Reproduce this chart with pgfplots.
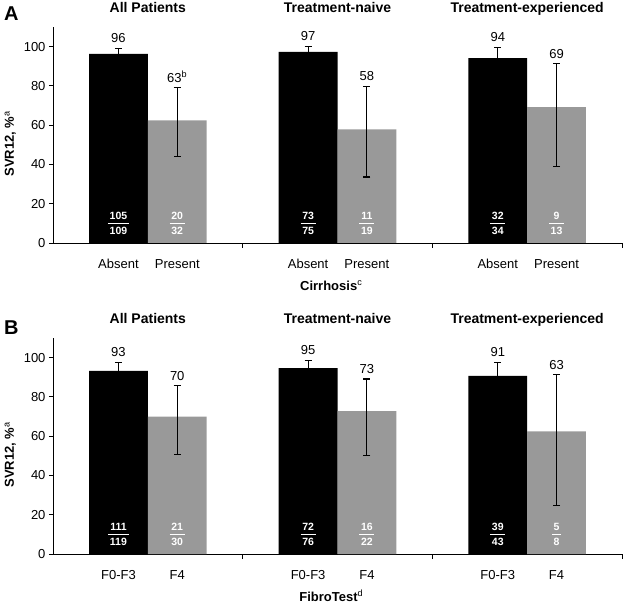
\documentclass[border=0pt]{standalone}
\usepackage{pgfplots}
\pgfplotsset{compat=1.18}
\usepackage{fontspec}
\setmainfont{Liberation Sans}
\definecolor{bargray}{RGB}{153,153,153}
\newcommand{\fr}[2]{$\displaystyle{\textbf{\,#1\,}\above 1pt\textbf{\,#2\,}}$}
\newcommand{\fsz}{\fontsize{13}{15}\selectfont}
\pgfplotsset{
  panel/.style={
    width=569pt, height=216pt, scale only axis, anchor=south west,
    xmin=0, xmax=3, ymin=0, ymax=110, clip=false,
    axis x line*=bottom, axis y line*=left,
    axis line style={-, line width=0.9pt},
    ytick={0,20,...,100},
    tick align=outside, major tick length=4pt,
    every tick/.append style={line width=0.9pt, black},
    xtick={0.345,0.655,1.345,1.655,2.345,2.655},
    xtick style={draw=none},
    extra x ticks={1,2,3}, extra x tick labels={},
    extra x tick style={xtick style={draw=black}, major tick length=5pt},
    every tick label/.append style={font=\fsz},
    /pgf/number format/assume math mode=true,
    xticklabel style={yshift=-9pt},
    ylabel style={at={(axis description cs:-0.075,0.46)}, anchor=center, font=\bfseries\fsz},
    xlabel style={font=\bfseries\fsz, anchor=base, at={(axis description cs:0.489,-0.218)}},
  },
  blackbar/.style={ybar, bar width=0.31, bar shift=0pt, fill=black, draw=none,
    error bars/.cd, y dir=both, y explicit, error mark=-,
    error bar style={line width=1.1pt, black},
    error mark options={rotate=90, black, line width=1.1pt, mark size=3.5pt}},
  graybar/.style={ybar, bar width=0.31, bar shift=0pt, fill=bargray, draw=none,
    error bars/.cd, y dir=both, y explicit, error mark=-,
    error bar style={line width=1.1pt, black},
    error mark options={rotate=90, black, line width=1.1pt, mark size=3.5pt}},
}
\tikzset{
  valnode/.style={anchor=south, inner sep=0pt, yshift=5.5pt, font=\fsz},
  frnode/.style={text=white, inner sep=0pt, font=\fontsize{10.5}{12}\selectfont},
  titlenode/.style={anchor=base, inner sep=0pt, yshift=14.5pt, font=\bfseries\fontsize{14}{16}\selectfont},
}
\begin{document}
\begin{tikzpicture}
\useasboundingbox (0,0) rectangle (624pt,603pt);
\node[anchor=base west, inner sep=0pt, font=\bfseries\fontsize{20}{24}\selectfont] at (4pt,582pt) {A};
\node[anchor=base west, inner sep=0pt, font=\bfseries\fontsize{20}{24}\selectfont] at (4pt,268pt) {B};
% Panel A
\begin{axis}[panel, at={(53pt,360pt)},
  xticklabels={Absent,Present,Absent,Present,Absent,Present},
  ylabel={SVR12, \%\textsuperscript{\mdseries a}},
  xlabel={Cirrhosis\textsuperscript{\mdseries c}}]
\addplot[blackbar] coordinates {
  (0.345,96.3) += (0,2.9) -= (0,5)
  (1.345,97.3) += (0,2.7) -= (0,5)
  (2.345,94.1) += (0,5.6) -= (0,8)
};
\addplot[graybar] coordinates {
  (0.655,62.5) += (0,16.5) -= (0,18.5)
  (1.655,57.9) += (0,21.9) -= (0,24.3)
  (2.655,69.2) += (0,22.0) -= (0,30.3)
};
\node[valnode] at (axis cs:0.345,99.2) {96};
\node[valnode] at (axis cs:0.655,79.0) {63\textsuperscript{b}};
\node[valnode] at (axis cs:1.345,100.0) {97};
\node[valnode] at (axis cs:1.655,79.8) {58};
\node[valnode] at (axis cs:2.345,99.7) {94};
\node[valnode] at (axis cs:2.655,91.2) {69};
\node[frnode] at (axis cs:0.345,10) {\fr{105}{109}};
\node[frnode] at (axis cs:0.655,10) {\fr{20}{32}};
\node[frnode] at (axis cs:1.345,10) {\fr{73}{75}};
\node[frnode] at (axis cs:1.655,10) {\fr{11}{19}};
\node[frnode] at (axis cs:2.345,10) {\fr{32}{34}};
\node[frnode] at (axis cs:2.655,10) {\fr{9}{13}};
\node[titlenode] at (axis cs:0.5,110) {All Patients};
\node[titlenode] at (axis cs:1.5,110) {Treatment-naive};
\node[titlenode] at (axis cs:2.5,110) {Treatment-experienced};
\end{axis}
% Panel B
\begin{axis}[panel, at={(53pt,49pt)},
  xticklabels={F0-F3,F4,F0-F3,F4,F0-F3,F4},
  ylabel={SVR12, \%\textsuperscript{\mdseries a}},
  xlabel={FibroTest\textsuperscript{\mdseries d}}]
\addplot[blackbar] coordinates {
  (0.345,93.3) += (0,4.2) -= (0,6)
  (1.345,94.7) += (0,3.9) -= (0,6)
  (2.345,90.7) += (0,6.8) -= (0,9)
};
\addplot[graybar] coordinates {
  (0.655,70.0) += (0,15.6) -= (0,19.3)
  (1.655,72.7) += (0,16.4) -= (0,22.7)
  (2.655,62.5) += (0,28.7) -= (0,37.9)
};
\node[valnode] at (axis cs:0.345,97.5) {93};
\node[valnode] at (axis cs:0.655,85.6) {70};
\node[valnode] at (axis cs:1.345,98.6) {95};
\node[valnode] at (axis cs:1.655,89.1) {73};
\node[valnode] at (axis cs:2.345,97.5) {91};
\node[valnode] at (axis cs:2.655,91.2) {63};
\node[frnode] at (axis cs:0.345,10) {\fr{111}{119}};
\node[frnode] at (axis cs:0.655,10) {\fr{21}{30}};
\node[frnode] at (axis cs:1.345,10) {\fr{72}{76}};
\node[frnode] at (axis cs:1.655,10) {\fr{16}{22}};
\node[frnode] at (axis cs:2.345,10) {\fr{39}{43}};
\node[frnode] at (axis cs:2.655,10) {\fr{5}{8}};
\node[titlenode] at (axis cs:0.5,110) {All Patients};
\node[titlenode] at (axis cs:1.5,110) {Treatment-naive};
\node[titlenode] at (axis cs:2.5,110) {Treatment-experienced};
\end{axis}
\end{tikzpicture}
\end{document}
